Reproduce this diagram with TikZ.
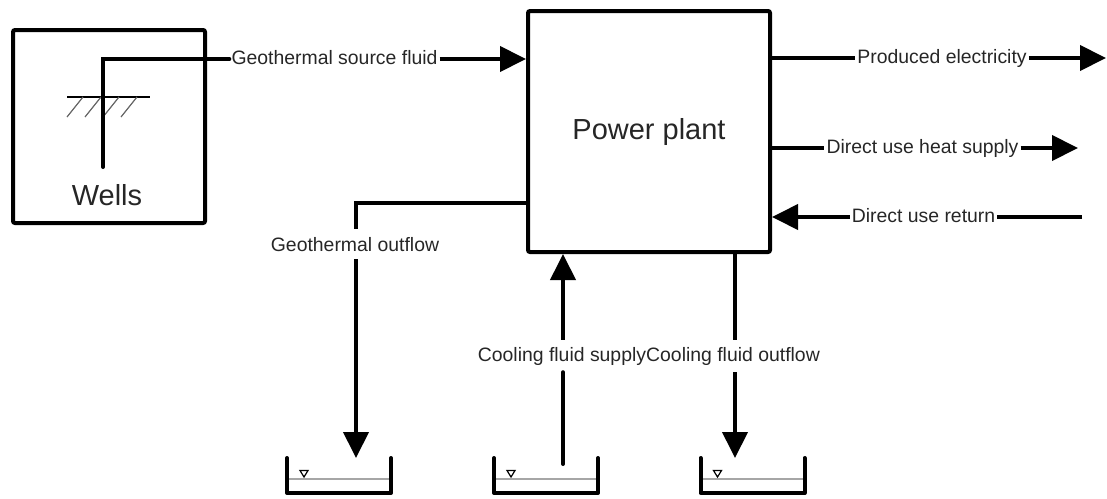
\documentclass[tikz,border=0pt]{standalone}
\usepackage{fontspec}
\setmainfont{Liberation Sans}
\usetikzlibrary{arrows.meta}
\begin{document}
\begin{tikzpicture}[x=1pt,y=-1pt,
  box/.style={draw, line width=4pt, inner sep=0pt, rounded corners=2pt},
  flow/.style={line width=4pt},
  arr/.style={flow, -{Triangle[length=26pt,width=25pt]}},
  lbl/.style={font=\fontsize{19.4}{22}\selectfont, text=black!85, inner xsep=2pt, inner ysep=3pt, text height=14pt, text depth=4pt},
  big/.style={font=\fontsize{29}{34}\selectfont, text=black!85, inner sep=0pt},
  fine/.style={line width=1.2pt},
  wall/.style={line width=4pt, line cap=round, line join=round},
  tank/.pic={
    \draw[fine, gray!70] (-52,3.5) -- (52,3.5);
    \draw[fine, fill=white] (-39,-5) -- (-31,-5) -- (-35,1.5) -- cycle;
    \draw[wall] (-52,-17.5) -- (-52,17.5) -- (52,17.5) -- (52,-17.5);
  }
]
\useasboundingbox (0,0) rectangle (1107,498);

% Wells
\node[box, minimum width=192pt, minimum height=193pt] (wells) at (109,126.5) {};
\node[big, anchor=base] (wellstxt) at (107,205) {Wells};
\draw[fine] (67,97) -- (150,97);
\foreach \x in {83,101,119,137} \draw[fine, black!60] (\x,97) -- (\x-16,117);
\coordinate (pipebot) at (103,167);
\coordinate (pipetop) at (103,59);

% Power plant
\node[box, minimum width=242pt, minimum height=241pt] (pp) at (649,131.5) {};
\node[big, anchor=base] (pptxt) at (649,139) {Power plant};

% Geothermal source fluid
\node[lbl] (gsf) at (334.5,59) {Geothermal source fluid};
\draw[flow, line cap=round] (pipebot) -- (pipetop) -- (gsf.west);
\draw[arr] (gsf.east) -- (pp.west |- gsf.east);

% Produced electricity
\node[lbl] (pe) at (942,58) {Produced electricity};
\coordinate (peend) at (1106,58);
\draw[flow] (pp.east |- pe.west) -- (pe.west);
\draw[arr] (pe.east) -- (peend);

% Direct use heat supply
\node[lbl] (hs) at (922.5,148) {Direct use heat supply};
\coordinate (hsend) at (1078,148);
\draw[flow] (pp.east |- hs.west) -- (hs.west);
\draw[arr] (hs.east) -- (hsend);

% Direct use return
\node[lbl] (dr) at (923.5,217) {Direct use return};
\coordinate (drstart) at (1082,217);
\draw[flow] (drstart) -- (dr.east);
\draw[arr] (dr.west) -- (pp.east |- dr.west);

% Tanks
\pic at (339,475.5) {tank};
\pic at (546,475.5) {tank};
\pic at (752.5,475.5) {tank};

% Geothermal outflow
\node[lbl, text depth=0pt, inner ysep=8pt] (go) at (355,244) {Geothermal outflow};
\coordinate (gocorner) at (356,203);
\coordinate (goend) at (356,458);
\draw[flow] (pp.west |- gocorner) -- (gocorner) -- (gocorner |- go.north);
\draw[arr] (gocorner |- go.south) -- (goend);

% Cooling fluid supply
\node[lbl, inner ysep=7pt] (cs) at (562,356) {Cooling fluid supply};
\coordinate (csbot) at (563,464);
\draw[flow, line cap=round] (csbot) -- (csbot |- cs.south);
\draw[arr] (csbot |- cs.north) -- (csbot |- pp.south);

% Cooling fluid outflow
\node[lbl, inner ysep=7pt] (co) at (733,356) {Cooling fluid outflow};
\coordinate (coend) at (735,458);
\draw[flow] (coend |- pp.south) -- (coend |- co.north);
\draw[arr] (coend |- co.south) -- (coend);
\end{tikzpicture}
\end{document}
